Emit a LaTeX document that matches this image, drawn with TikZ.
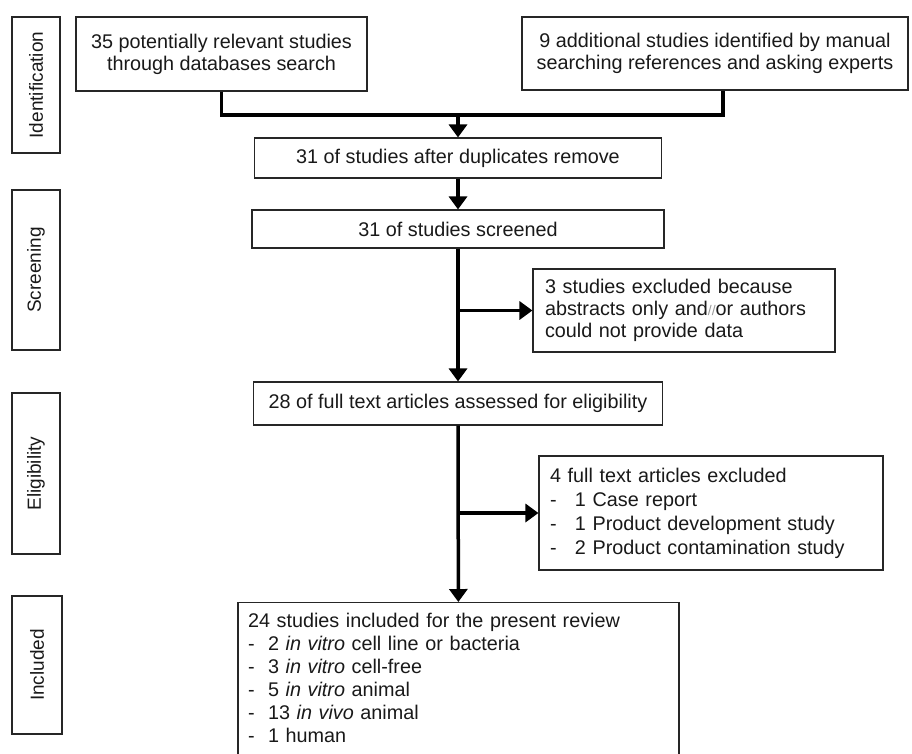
\documentclass[tikz,border=0pt]{standalone}
\usepackage{fontspec}
\setmainfont{Liberation Sans}
\usetikzlibrary{arrows.meta}

\begin{document}
\begin{tikzpicture}[x=1pt,y=-1pt,>={Triangle[width=18pt,length=13pt]},
  box/.style={draw=black!85,line width=1.1pt,inner sep=0pt,text=black!90,
    font=\fontsize{19.8}{22}\selectfont},
  stagebox/.style={box,rotate=90,minimum height=48pt,
    font=\fontsize{19}{20}\selectfont},
  flow/.style={line width=3.5pt}]
\useasboundingbox (0,0) rectangle (912,753);

% phase labels
\node[stagebox,minimum width=136pt] (ident) at (36,85) {Identification};
\node[stagebox,minimum width=160pt] (screenlab) at (36,270) {Screening};
\node[stagebox,minimum width=161pt] (eliglab) at (36,473.5) {Eligibility};
\node[stagebox,minimum width=138pt,minimum height=50pt] (incllab) at (37,665) {Included};

% main boxes
\node[box,minimum width=291pt,minimum height=74pt,align=center] (search) at (221.5,54)
  {35 potentially relevant studies\\through databases search};
\node[box,minimum width=386pt,minimum height=73pt,align=center] (extra) at (715,53.5)
  {9 additional studies identified by manual\\searching references and asking experts};
\node[box,minimum width=407pt,minimum height=40pt] (dedup) at (458,158)
  {31 of studies after duplicates remove};
\node[box,minimum width=412pt,minimum height=38pt] (screen) at (458,229)
  {31 of studies screened};
\node[box,minimum width=302pt,minimum height=83pt,align=left,
  text width=278pt] (excl1) at (684,310.5)
  {3 studies excluded because\\abstracts only and{\color{black!40}\fontsize{14}{14}\selectfont//}or authors\\could not provide data};
\node[box,minimum width=409pt,minimum height=43pt] (fulltext) at (458,403.5)
  {28 of full text articles assessed for eligibility};
\node[box,minimum width=344pt,minimum height=114pt,align=left,
  text width=322pt,font=\fontsize{19.8}{24}\selectfont] (excl2) at (711,513)
  {4 full text articles excluded\\
   \makebox[25pt][l]{-}1 Case report\\
   \makebox[25pt][l]{-}1 Product development study\\
   \makebox[25pt][l]{-}2 Product contamination study};
\node[box,anchor=north,align=left,text width=421pt,inner xsep=10pt,
  inner ysep=11pt,font=\fontsize{19.8}{23}\selectfont] (included) at (458.5,602)
  {24 studies included for the present review\\
   \makebox[20pt][l]{-}2 \textit{in vitro} cell line or bacteria\\
   \makebox[20pt][l]{-}3 \textit{in vitro} cell-free\\
   \makebox[20pt][l]{-}5 \textit{in vitro} animal\\
   \makebox[20pt][l]{-}13 \textit{in vivo} animal\\
   \makebox[20pt][l]{-}1 human\rule[-10pt]{0pt}{1pt}};

% connectors
\coordinate (merge) at (458,115);
\draw[flow] (search.south) |- (merge) -| ([xshift=8pt]extra.south);
\draw[flow,->] (merge) -- (dedup);
\draw[flow,->] (dedup) -- (screen);
\draw[flow,->] (screen) -- (fulltext);
\draw[flow,->] (screen.south |- excl1.west) -- (excl1.west);
\draw[flow,->] (fulltext) -- (included);
\draw[flow,->] (fulltext.south |- excl2.west) -- (excl2.west);
\end{tikzpicture}
\end{document}
